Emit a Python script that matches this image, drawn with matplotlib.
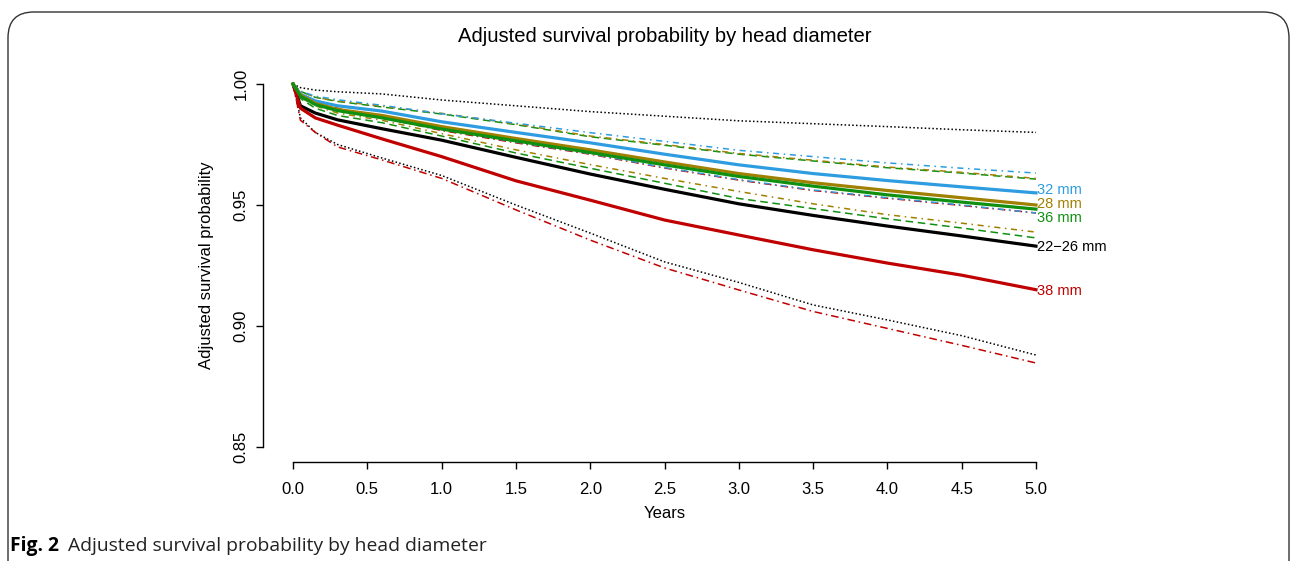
import matplotlib
matplotlib.use("Agg")
import matplotlib.pyplot as plt
from matplotlib.patches import FancyBboxPatch

plt.rcParams['font.family'] = ['Liberation Sans', 'DejaVu Sans']

# ---- data ----
years = [0, 0.05, 0.15, 0.3, 0.6, 1.0, 1.5, 2.0, 2.5, 3.0, 3.5, 4.0, 4.5, 5.0]

groups = ["22\u221226 mm", "28 mm", "32 mm", "36 mm", "38 mm"]

surv_22_26 = [1.0, 0.991, 0.988, 0.9852, 0.9815, 0.9768, 0.9697, 0.9628, 0.9565, 0.9505, 0.9457, 0.9413, 0.9372, 0.9330]
lo_22_26   = [1.0, 0.986, 0.980, 0.975, 0.9694, 0.9622, 0.9500, 0.9384, 0.9265, 0.9180, 0.9087, 0.9025, 0.8960, 0.8880]
hi_22_26   = [1.0, 0.9985, 0.9975, 0.9968, 0.9959, 0.9934, 0.9910, 0.9886, 0.9867, 0.9848, 0.9836, 0.9824, 0.9811, 0.9800]

surv_28 = [1.0, 0.9955, 0.992, 0.9895, 0.9870, 0.9824, 0.9775, 0.9728, 0.9678, 0.9630, 0.9592, 0.9560, 0.9530, 0.9500]
lo_28   = [1.0, 0.9945, 0.991, 0.9880, 0.9850, 0.9795, 0.9728, 0.9667, 0.9610, 0.9556, 0.9505, 0.9460, 0.9425, 0.9388]
hi_28   = [1.0, 0.997, 0.9945, 0.9930, 0.9908, 0.9879, 0.9835, 0.9785, 0.9750, 0.9713, 0.9685, 0.9657, 0.9635, 0.9610]

surv_32 = [1.0, 0.9958, 0.993, 0.991, 0.9888, 0.9844, 0.9800, 0.9757, 0.9710, 0.9666, 0.9630, 0.9601, 0.9575, 0.9550]
lo_32   = [1.0, 0.9945, 0.992, 0.9895, 0.9860, 0.9812, 0.9760, 0.9712, 0.9655, 0.9605, 0.9562, 0.9530, 0.9500, 0.9467]
hi_32   = [1.0, 0.997, 0.995, 0.9935, 0.9912, 0.9877, 0.9838, 0.9799, 0.9763, 0.9726, 0.9700, 0.9674, 0.9652, 0.9632]

surv_36 = [1.0, 0.995, 0.9915, 0.989, 0.9860, 0.9814, 0.9765, 0.9717, 0.9666, 0.9618, 0.9578, 0.9542, 0.9512, 0.9483]
lo_36   = [1.0, 0.994, 0.990, 0.987, 0.9840, 0.9785, 0.9715, 0.9652, 0.9590, 0.9527, 0.9485, 0.9443, 0.9405, 0.9364]
hi_36   = [1.0, 0.997, 0.9945, 0.9928, 0.9905, 0.9876, 0.9832, 0.9782, 0.9747, 0.9710, 0.9682, 0.9654, 0.9632, 0.9607]

surv_38 = [1.0, 0.990, 0.986, 0.983, 0.9773, 0.9700, 0.9600, 0.9520, 0.9438, 0.9376, 0.9315, 0.9260, 0.9210, 0.9150]
lo_38   = [1.0, 0.985, 0.980, 0.9740, 0.9686, 0.9610, 0.9480, 0.9355, 0.9240, 0.9149, 0.9060, 0.8990, 0.8920, 0.8847]
hi_38   = [1.0, 0.9945, 0.9915, 0.9900, 0.9860, 0.9808, 0.9757, 0.9710, 0.9653, 0.9603, 0.9560, 0.9528, 0.9498, 0.9467]

x_ticks = [0.0, 0.5, 1.0, 1.5, 2.0, 2.5, 3.0, 3.5, 4.0, 4.5, 5.0]
y_ticks = [0.85, 0.90, 0.95, 1.00]

# ---- style ----
colors = {"22\u221226 mm": "#000000", "28 mm": "#A08000", "32 mm": "#2E9CE0",
          "36 mm": "#109010", "38 mm": "#C00000"}
ci_style = {"22\u221226 mm": (0, (1, 1.5)), "28 mm": (0, (4, 3, 1, 3)),
            "32 mm": (0, (4, 3, 1, 3)), "36 mm": (0, (5, 3)), "38 mm": (0, (5, 2.5, 1, 2.5))}
label_y = {"32 mm": 0.9562, "28 mm": 0.9504, "36 mm": 0.9446,
           "22\u221226 mm": 0.9326, "38 mm": 0.9145}

series = {
    "22\u221226 mm": (surv_22_26, lo_22_26, hi_22_26),
    "28 mm": (surv_28, lo_28, hi_28),
    "32 mm": (surv_32, lo_32, hi_32),
    "36 mm": (surv_36, lo_36, hi_36),
    "38 mm": (surv_38, lo_38, hi_38),
}

fig = plt.figure(figsize=(12.92, 5.61), dpi=100)
W, H = 1292, 561
ax = fig.add_axes([263.3 / W, 1 - 461.5 / H, (1065.7 - 263.3) / W, (461.5 - 69.5) / H])

# confidence bounds
for g in ["22\u221226 mm", "38 mm", "36 mm", "28 mm", "32 mm"]:
    s, lo, hi = series[g]
    ax.plot(years, lo, color=colors[g], lw=1.1, ls=ci_style[g])
    ax.plot(years, hi, color=colors[g], lw=1.1, ls=ci_style[g])

# estimates
for g in ["22\u221226 mm", "38 mm", "32 mm", "28 mm", "36 mm"]:
    s, lo, hi = series[g]
    ax.plot(years, s, color=colors[g], lw=2.3, solid_joinstyle='miter')

for g in groups:
    ax.text(5.01, label_y[g], g, color=colors[g], fontsize=10.5,
            ha='left', va='center', clip_on=False)

ax.set_xlim(-0.2, 5.2)
ax.set_ylim(0.844, 1.006)
for sp in ["top", "right"]:
    ax.spines[sp].set_visible(False)
ax.spines["left"].set_bounds(0.85, 1.00)
ax.spines["bottom"].set_bounds(0, 5)
ax.spines["left"].set_linewidth(1.0)
ax.spines["bottom"].set_linewidth(1.0)
ax.set_xticks(x_ticks)
ax.set_xticklabels([f"{v:.1f}" for v in x_ticks], fontsize=12)
ax.set_yticks(y_ticks)
ax.set_yticklabels([f"{v:.2f}" for v in y_ticks], fontsize=12, rotation=90, va='center')
ax.tick_params(axis='both', length=5, width=1.0)
ax.tick_params(axis='x', pad=10)
ax.tick_params(axis='y', pad=5.6)

fig.text(665 / W, 1 - 514 / H, "Years", fontsize=12, ha='center', va='center')
fig.text(206 / W, 1 - 265 / H, "Adjusted survival probability", fontsize=12,
         ha='center', va='center', rotation=90)

fig.text(665 / W, 1 - 36 / H, "Adjusted survival probability by head diameter",
         ha='center', va='center', fontsize=14.6)

# caption
fig.text(10 / W, 1 - 546 / H, "Fig. 2", fontsize=13.9, fontweight='bold',
         family=['Open Sans', 'DejaVu Sans'], ha='left', va='center')
fig.text(68 / W, 1 - 546 / H, "Adjusted survival probability by head diameter", fontsize=13.9,
         family=['Open Sans', 'DejaVu Sans'], ha='left', va='center', color='#222222')

# frame
box = FancyBboxPatch((8 / W, -0.2), (1281 / W), 1 - 12 / H + 0.2,
                     boxstyle="round,pad=0,rounding_size=0.02",
                     transform=fig.transFigure, fill=False, ec='#333333', lw=1.0,
                     mutation_aspect=W / H)
fig.patches.append(box)

fig.savefig("out.png", dpi=100)
